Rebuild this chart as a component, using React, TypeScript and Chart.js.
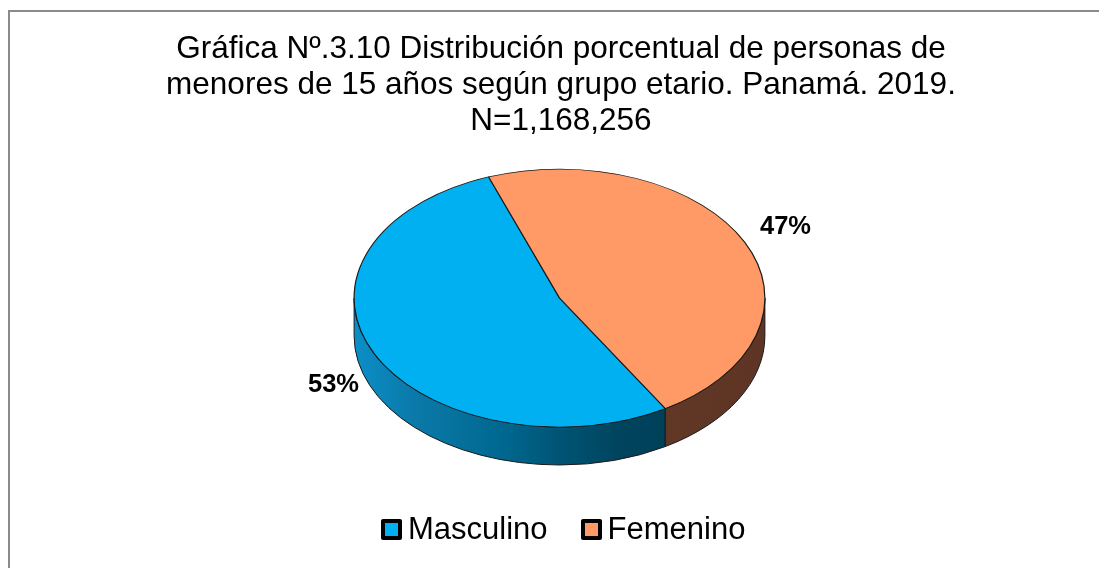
import { useEffect, useRef } from "react";
import { Chart, registerables } from "chart.js";

Chart.register(...registerables);

const titleLines = [
  "Gráfica Nº.3.10 Distribución porcentual de personas de",
  "menores de 15 años según grupo etario. Panamá. 2019.",
  "N=1,168,256",
];
const categories = ["Masculino", "Femenino"];
const percentages = [53, 47];
const topColors = ["#00B0F0", "#FF9966"];
const sideStops: [number, string][][] = [
  [
    [0, "#0A8FC8"],
    [0.14, "#0B7AAA"],
    [0.36, "#006890"],
    [0.5, "#005475"],
    [0.65, "#00445E"],
    [1, "#003A50"],
  ],
  [
    [0, "#6A3E2B"],
    [1, "#5E3524"],
  ],
];

const FONT = '"Liberation Sans", Arial, Helvetica, sans-serif';

const pie3dPlugin = {
  id: "pie3d",
  beforeDatasetsDraw(chart: any, _args: any, opts: any) {
    const arcs = chart.getDatasetMeta(0).data as any[];
    if (!arcs.length) return;
    const { x: cx, y: cy, outerRadius: r } = arcs[0];
    const ry = r * opts.tilt;
    const d = opts.depth;
    const ctx: CanvasRenderingContext2D = chart.ctx;
    ctx.save();
    arcs.forEach((arc: any, i: number) => {
      const g = ctx.createLinearGradient(cx - r, 0, cx + r, 0);
      (opts.sideStops[i] || []).forEach(([o, c]: [number, string]) => g.addColorStop(o, c));
      for (let k = -1; k <= 2; k++) {
        const s = Math.max(arc.startAngle, 2 * Math.PI * k);
        const e = Math.min(arc.endAngle, Math.PI + 2 * Math.PI * k);
        if (e <= s) continue;
        ctx.beginPath();
        ctx.ellipse(cx, cy, r, ry, 0, s, e, false);
        ctx.ellipse(cx, cy + d, r, ry, 0, e, s, true);
        ctx.closePath();
        ctx.fillStyle = g;
        ctx.fill();
        ctx.lineWidth = opts.edgeWidth;
        ctx.strokeStyle = opts.edgeColor;
        ctx.lineJoin = "round";
        ctx.stroke();
      }
    });
    ctx.restore();
    ctx.save();
    ctx.translate(cx, cy);
    ctx.scale(1, opts.tilt);
    ctx.translate(-cx, -cy);
  },
  afterDatasetsDraw(chart: any, _args: any, opts: any) {
    const arcs = chart.getDatasetMeta(0).data as any[];
    if (!arcs.length) return;
    const ctx: CanvasRenderingContext2D = chart.ctx;
    ctx.restore();
    const { x: cx, y: cy, outerRadius: r } = arcs[0];
    const ry = r * opts.tilt;
    const d = opts.depth;
    const values = chart.data.datasets[0].data as number[];
    ctx.save();
    ctx.font = opts.labelFont;
    ctx.fillStyle = "#000";
    ctx.textAlign = "center";
    ctx.textBaseline = "middle";
    arcs.forEach((arc: any, i: number) => {
      const mid = (arc.startAngle + arc.endAngle) / 2;
      const c = Math.cos(mid);
      const s = Math.sin(mid);
      const x = cx + c * r * opts.labelFactorX;
      const y = cy + s * ry * opts.labelFactorY + (s > 0 ? s * d : 0);
      ctx.fillText(values[i] + "%", x, y);
    });
    ctx.restore();
  },
};

export default function App() {
  const ref = useRef<HTMLCanvasElement>(null);

  useEffect(() => {
    if (!ref.current) return;
    const chart = new Chart(ref.current, {
      type: "pie",
      data: {
        labels: categories,
        datasets: [
          {
            data: percentages,
            backgroundColor: topColors,
            borderColor: "#1a1a1a",
            borderWidth: 1.2,
            clip: false,
          } as any,
        ],
      },
      options: {
        responsive: false,
        animation: false,
        events: [],
        rotation: 149,
        layout: { padding: { top: 92, bottom: 64, left: 20, right: 0 } },
        plugins: {
          legend: { display: false },
          title: { display: false },
          tooltip: { enabled: false },
          pie3d: {
            tilt: 0.628,
            depth: 38,
            sideStops,
            edgeColor: "#1a1a1a",
            edgeWidth: 1,
            labelFactorX: 1.22,
            labelFactorY: 1.27,
            labelFont: `bold 25.5px ${FONT}`,
          },
        } as any,
      },
      plugins: [pie3dPlugin as any],
    });
    return () => chart.destroy();
  }, []);

  return (
    <div
      style={{
        position: "fixed",
        left: 0,
        top: 0,
        width: 1099,
        height: 568,
        overflow: "hidden",
        background: "#fff",
        fontFamily: FONT,
        color: "#000",
      }}
    >
      <div
        style={{
          position: "absolute",
          left: 8,
          top: 10,
          width: 1300,
          height: 800,
          borderLeft: "2px solid #8a8a8a",
          borderTop: "2px solid #8a8a8a",
        }}
      />
      <canvas
        ref={ref}
        width={1099}
        height={568}
        style={{ position: "absolute", left: 0, top: 0 }}
      />
      <div
        style={{
          position: "absolute",
          top: 29,
          left: 23,
          right: 0,
          textAlign: "center",
          fontSize: 31.5,
          lineHeight: "36px",
          whiteSpace: "nowrap",
        }}
      >
        {titleLines.map((t, i) => (
          <div key={i}>{t}</div>
        ))}
      </div>
      <div
        style={{
          position: "absolute",
          top: 511,
          left: 381,
          display: "flex",
          alignItems: "center",
          fontSize: 31,
          lineHeight: "36px",
          whiteSpace: "nowrap",
        }}
      >
        {categories.map((c, i) => (
          <div
            key={c}
            style={{ display: "flex", alignItems: "center", marginLeft: i === 0 ? 0 : 33 }}
          >
            <span
              style={{
                display: "inline-block",
                width: 13,
                height: 13,
                border: "4px solid #000",
                borderRadius: 2,
                background: topColors[i],
                marginRight: 6,
              }}
            />
            <span>{c}</span>
          </div>
        ))}
      </div>
    </div>
  );
}
